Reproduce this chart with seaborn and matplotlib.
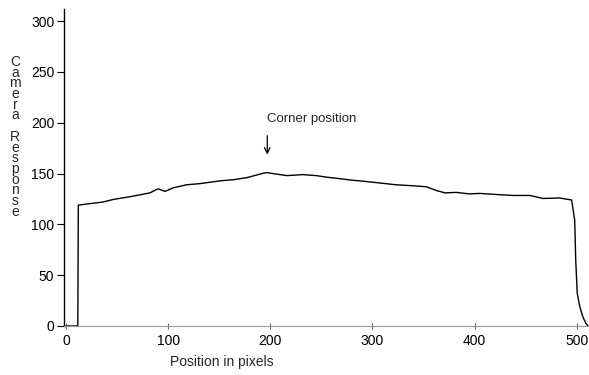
import matplotlib
matplotlib.use("Agg")
import matplotlib.pyplot as plt
import seaborn as sns
import pandas as pd

# Intensity profile across the scan line
position = [0, 11.5, 12, 20, 28, 36, 46, 55, 64, 72, 82, 90, 97, 105, 118,
            130, 141, 152, 164, 177, 190, 196, 206, 216, 224, 232, 245, 255,
            268, 280, 291, 305, 323, 340, 353, 362, 371, 382, 395, 405, 420,
            437, 454, 467, 483, 495, 498, 499, 500.5, 503, 506, 509, 511]
response = [0, 0, 119, 120, 121, 122, 124.5, 126, 127.5, 129, 131, 135, 132.5,
            136, 139, 140, 141.5, 143, 144, 146, 149.5, 151, 149.5, 148, 148.5,
            149, 148, 146.5, 145, 143.5, 142.5, 141, 139, 138, 137, 133.5, 131,
            131.5, 130, 130.5, 129.5, 128.5, 128.5, 125.5, 126, 124, 104, 65,
            32, 19, 9, 2.5, 0]

x_ticks = [0, 100, 200, 300, 400, 500]
y_ticks = [0, 50, 100, 150, 200, 250, 300]
y_label = "Camera Response"
x_label = "Position in pixels"
note = "Corner position"
note_x = 197

sns.set_style("ticks")
plt.rcParams["font.family"] = ["Liberation Sans", "DejaVu Sans"]

df = pd.DataFrame({"position": position, "response": response})

fig = plt.figure(figsize=(5.89, 3.75), dpi=100)
ax = fig.add_axes([0.1087, 0.1307, 0.8913, 0.8453])

sns.lineplot(data=df, x="position", y="response", ax=ax, color="black",
             linewidth=1.0, estimator=None, sort=False)

ax.set_xlim(-2, 512)
ax.set_ylim(0, 312)
ax.set_xticks(x_ticks)
ax.set_yticks(y_ticks)
ax.tick_params(axis="both", labelsize=10, colors="black", width=0.8)
ax.tick_params(axis="y", direction="out", length=5, pad=2)
ax.tick_params(axis="x", direction="inout", length=5, pad=3, color="#666666")

for side in ("top", "right"):
    ax.spines[side].set_visible(False)
ax.spines["left"].set_color("black")
ax.spines["left"].set_linewidth(1.0)
ax.spines["bottom"].set_color("#9a9a9a")
ax.spines["bottom"].set_linewidth(0.8)

ax.set_ylabel("")
ax.set_xlabel(x_label, fontsize=10)
ax.xaxis.set_label_coords(0.30, -0.092)

# Vertical stacked axis title
fig.text(0.026, 0.635, "\n".join(y_label), fontsize=10, ha="center",
         va="center", linespacing=0.70)

# Corner marker
ax.text(note_x, 198, note, fontsize=9.5, ha="left", va="bottom")
ax.annotate("", xy=(note_x, 166), xytext=(note_x, 190),
            arrowprops=dict(arrowstyle="->", color="black", lw=0.9,
                            mutation_scale=10))

fig.savefig("out.png", dpi=100)
